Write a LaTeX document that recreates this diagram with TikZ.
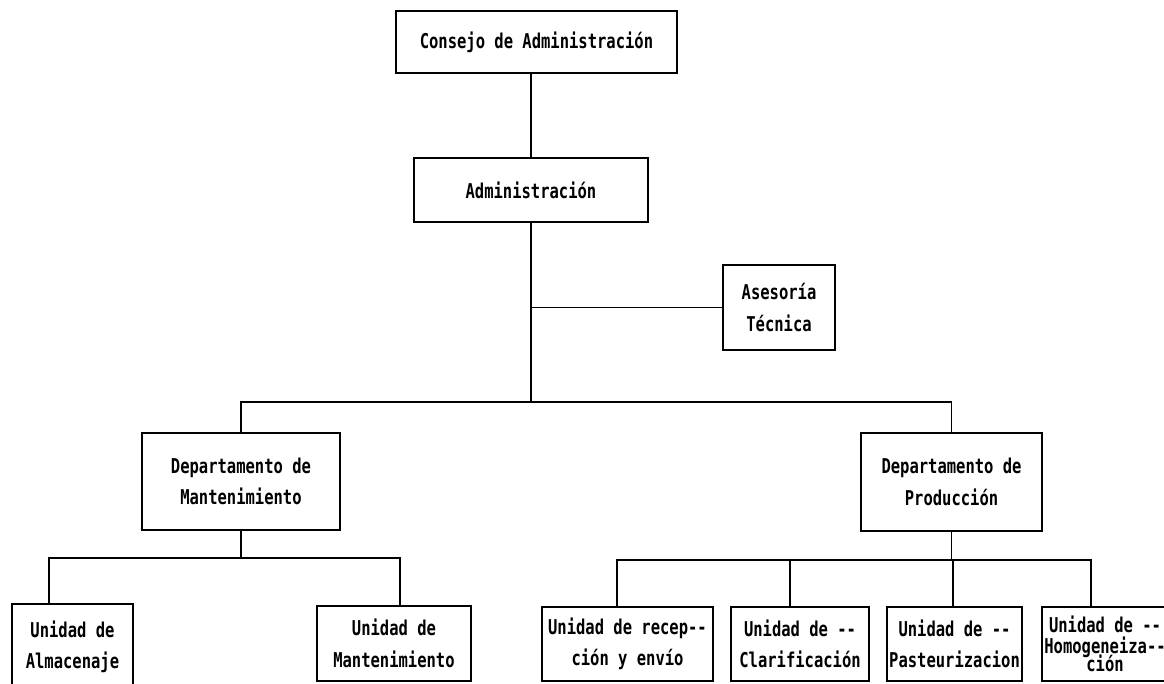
\documentclass[tikz,border=0pt]{standalone}
\usepackage{fontspec}
\usepackage{tikz}
\usetikzlibrary{calc}
\newfontfamily\orgfont[FakeStretch=0.76]{DejaVu Sans Mono}
\newcommand{\dd}{-\kern0pt-}
\tikzset{orgbox/.style 2 args = {draw, line width=1.3pt, align=center, inner sep=1pt,
                                 minimum width=#1*0.75pt, minimum height=#2*0.75pt}}
\tikzset{orgline/.style = {line width=1.3pt}}

\begin{document}
\begin{tikzpicture}[x=0.75pt, y=-0.75pt,
    font=\orgfont\bfseries\fontsize{15.3}{23.5}\selectfont]
    \useasboundingbox (0, 0) rectangle (1164, 683);

    \node (cons) at (536.5, 42) [orgbox={281}{62}] {Consejo de Administración};
    \node (adm) at (531, 190) [orgbox={234}{64}] {Administración};
    \node (ase) at (779, 307.5) [orgbox={112}{85}] {Asesoría\\Técnica};

    \node (dm) at (241, 481.5) [orgbox={198}{97}] {Departamento de\\Mantenimiento};
    \node (dp) at (951.5, 482) [orgbox={181}{98}] {Departamento de\\Producción};

    \node (alm) at (72.5, 647) [orgbox={121}{86}] {Unidad de\\Almacenaje};
    \node (um) at (394, 643.5) [orgbox={154}{75}] {Unidad de\\Mantenimiento};
    \node (rec) at (627.5, 644) [orgbox={171}{74}] {Unidad de recep\dd\\ción y envío};
    \node (cla) at (800, 644) [orgbox={138}{74}] {Unidad de \dd\\Clarificación};
    \node (pas) at (954.5, 644) [orgbox={135}{74}] {Unidad de \dd\\Pasteurizacion};
    \node (hom) at (1105, 644) [orgbox={126}{74}] {Unidad de \dd\\[-8pt]Homogeneiza\dd\\[-10pt]ción};

    \coordinate (bus) at (531, 402);
    \coordinate (mbus) at (241, 558);
    \coordinate (pbus) at (951.5, 560);

    \draw [orgline] (adm.north) -- (adm.north |- cons.south);
    \draw [orgline] (adm.south) -- (bus);
    \draw [orgline] (ase.west) -- (ase.west -| adm.south);
    \draw [orgline] (dm.north) |- (bus) -| (dp.north);

    \draw [orgline] (dm.south) -- (mbus);
    \foreach \n/\f in {alm/0.31, um/0.54}
      \draw [orgline] ($(\n.north west)!\f!(\n.north east)$) |- (mbus);

    \draw [orgline] (dp.south) -- (pbus);
    \foreach \n/\f in {rec/0.44, cla/0.43, pas/0.49, hom/0.39}
      \draw [orgline] ($(\n.north west)!\f!(\n.north east)$) |- (pbus);
\end{tikzpicture}
\end{document}
